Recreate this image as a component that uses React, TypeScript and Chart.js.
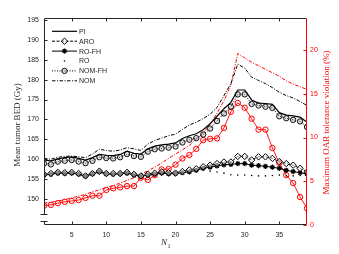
import React, { useEffect, useRef } from "react";
import { Chart, registerables } from "chart.js";
import { drawPoint } from "chart.js/helpers";

Chart.register(...registerables);

// ---------- data ----------
const N1 = [1, 2, 3, 4, 5, 6, 7, 8, 9, 10, 11, 12, 13, 14, 15, 16, 17, 18, 19, 20, 21, 22, 23, 24, 25, 26, 27, 28, 29, 30, 31, 32, 33, 34, 35, 36, 37, 38, 39];
const xTicks = [5, 10, 15, 20, 25, 30, 35];
const leftTicks = [150, 155, 160, 165, 170, 175, 180, 185, 190, 195];
const rightTicks = [0, 5, 10, 15, 20];

const PI = [159.8, 159.6, 160.1, 160.4, 160.6, 160.2, 159.8, 160.4, 161.2, 161.0, 160.9, 161.2, 162.0, 161.5, 161.3, 162.6, 163.3, 163.6, 163.8, 164.1, 165.2, 165.9, 166.4, 167.4, 168.9, 170.8, 172.7, 174.3, 177.4, 177.4, 174.9, 174.1, 174.0, 173.8, 171.7, 171.1, 170.9, 170.6, 169.3];
const ARO = [156.2, 156.4, 156.7, 156.6, 156.7, 156.4, 155.8, 156.4, 157.0, 156.4, 156.4, 156.4, 156.7, 156.2, 155.8, 156.2, 156.5, 156.8, 156.6, 156.5, 156.9, 157.3, 157.6, 158.1, 158.5, 158.9, 159.3, 159.3, 160.7, 160.7, 159.8, 160.6, 160.6, 160.2, 159.4, 158.9, 158.5, 157.7, 156.8];
const RO_FH = [156.0, 156.2, 156.5, 156.4, 156.5, 156.2, 155.7, 156.3, 156.8, 156.3, 156.2, 156.3, 156.5, 156.0, 155.7, 156.0, 156.2, 156.5, 156.3, 156.4, 156.6, 156.8, 157.2, 157.7, 158.0, 158.3, 158.6, 158.7, 158.9, 158.9, 158.5, 158.4, 158.2, 158.0, 157.7, 157.2, 156.9, 156.6, 156.3];
const RO = [155.9, 156.1, 156.4, 156.3, 156.4, 156.1, 155.6, 156.2, 156.7, 156.2, 156.1, 156.2, 156.4, 155.9, 155.6, 155.9, 156.1, 156.4, 156.2, 156.3, 156.5, 156.7, 157.0, 157.3, 157.0, 156.8, 156.5, 156.1, 156.0, 156.0, 155.9, 155.8, 155.8, 155.9, 156.0, 155.8, 155.8, 155.9, 156.0];
const NOM_FH = [158.9, 158.7, 159.4, 159.6, 159.8, 159.4, 159.0, 159.6, 160.5, 160.3, 160.2, 160.5, 161.3, 160.8, 160.6, 161.9, 162.5, 162.7, 162.9, 163.2, 164.2, 164.9, 165.3, 166.2, 167.7, 169.6, 171.5, 173.2, 176.3, 176.3, 173.9, 173.5, 173.2, 172.9, 170.8, 170.3, 169.9, 169.5, 168.1];
const NOM = [160.2, 160.0, 160.5, 160.7, 160.8, 160.6, 160.4, 161.3, 162.5, 162.2, 162.0, 162.3, 162.9, 162.6, 162.2, 163.8, 164.7, 165.3, 165.9, 166.3, 167.5, 168.6, 169.3, 170.2, 171.3, 173.0, 176.0, 179.0, 183.9, 182.9, 180.6, 179.8, 179.0, 178.0, 176.8, 176.0, 175.4, 174.5, 173.5];
// right axis: maximum OAR tolerance violation (%)
const VIOL_NOM_FH = [2.2, 2.3, 2.5, 2.65, 2.75, 2.85, 3.1, 3.35, 3.35, 4.0, 4.2, 4.3, 4.45, 4.45, 5.4, 5.15, 5.7, 6.35, 6.4, 6.9, 7.6, 8.0, 8.7, 9.7, 9.85, 9.9, 11.1, 12.95, 13.95, 13.4, 12.15, 10.9, 10.9, 8.8, 7.1, 5.7, 4.8, 3.2, 1.9];
const VIOL_NOM = [2.5, 2.6, 2.75, 2.9, 3.1, 3.3, 3.5, 3.8, 4.0, 4.3, 4.5, 4.8, 5.1, 5.4, 5.8, 6.2, 6.6, 7.1, 7.6, 8.1, 8.6, 9.1, 9.8, 10.5, 11.5, 12.8, 14.2, 16.0, 19.6, 19.1, 18.6, 18.2, 17.8, 17.4, 17.0, 16.5, 16.1, 15.8, 15.5];

const legendLabels = ["PI", "ARO", "RO-FH", "RO", "NOM-FH", "NOM"];
const xTitle = "N";
const xTitleSub = "1";
const leftTitle = "Mean tumor BED (Gy)";
const rightTitle = "Maximum OAR tolerance violation (%)";

// ---------- styles ----------
const BLACK = "#000000";
const AXIS = "#262626";
const RED = "#ff0000";
const SANS = "'Liberation Sans', Arial, Helvetica, sans-serif";
const SERIF = "'Liberation Serif', 'Times New Roman', serif";

const pts = (arr: number[]) => N1.map((n, i) => ({ x: n, y: arr[i] }));

const matlabAxes = {
  id: "matlabAxes",
  afterDraw(chart: any) {
    const { ctx, chartArea, scales } = chart;
    const { left, right, top, bottom } = chartArea;
    const xs = scales.x, yl = scales.y, yr = scales.y1;
    const T = 3;
    ctx.save();
    ctx.setLineDash([]);
    ctx.lineWidth = 1;
    const seg = (x1: number, y1: number, x2: number, y2: number) => {
      ctx.beginPath();
      ctx.moveTo(x1, y1);
      ctx.lineTo(x2, y2);
      ctx.stroke();
    };
    const L = Math.round(left) + 0.5;
    const R = Math.round(right) - 0.5;
    const Tp = Math.round(top) + 0.5;
    const B = Math.round(bottom) - 0.5;
    ctx.strokeStyle = AXIS;
    seg(L, Tp, R, Tp);
    seg(L, B, R, B);
    // left axis with break
    const yb1 = Math.round(yl.getPixelForValue(146.2)) + 0.5;
    const yb2 = Math.round(yl.getPixelForValue(144.5)) + 0.5;
    seg(L, Tp, L, yb1);
    seg(L, yb2, L, B);
    seg(L - 4, yb1, L + 3, yb1);
    seg(L - 4, yb2, L + 3, yb2);
    for (const v of xTicks) {
      const px = Math.round(xs.getPixelForValue(v)) + 0.5;
      seg(px, B, px, B - T);
      seg(px, Tp, px, Tp + T);
    }
    for (const v of leftTicks) {
      const py = Math.round(yl.getPixelForValue(v)) + 0.5;
      seg(L, py, L + T, py);
    }
    ctx.strokeStyle = RED;
    seg(R, Tp, R, B);
    for (const v of rightTicks) {
      const py = Math.round(yr.getPixelForValue(v)) + 0.5;
      seg(R, py, R - T, py);
    }

    // legend
    const ds = chart.data.datasets;
    const y0 = 31.3, dy = 9.9, lx0 = 52, lx1 = 77, mx = 64.5, tx = 79;
    ctx.font = `7px ${SANS}`;
    ctx.textBaseline = "middle";
    ctx.textAlign = "left";
    legendLabels.forEach((lab, i) => {
      const d = ds[i];
      const y = y0 + i * dy;
      if (d.showLine !== false) {
        ctx.setLineDash(d.borderDash || []);
        ctx.strokeStyle = d.borderColor;
        ctx.lineWidth = d.borderWidth;
        seg(lx0, y, lx1, y);
      }
      ctx.setLineDash([]);
      if (d.pointRadius > 0) {
        ctx.strokeStyle = d.pointBorderColor || d.borderColor;
        ctx.fillStyle = d.pointBackgroundColor || d.borderColor;
        ctx.lineWidth = d.pointBorderWidth;
        drawPoint(ctx, { pointStyle: d.pointStyle, radius: d.pointRadius, borderWidth: d.pointBorderWidth, rotation: 0 }, mx, y);
      }
      ctx.fillStyle = AXIS;
      ctx.fillText(lab, tx, y + 0.5);
    });

    // axis titles
    ctx.font = `9px ${SERIF}`;
    ctx.textAlign = "center";
    ctx.textBaseline = "middle";
    ctx.fillStyle = AXIS;
    ctx.save();
    ctx.translate(18, 125);
    ctx.rotate(-Math.PI / 2);
    ctx.fillText(leftTitle, 0, 0);
    ctx.restore();
    ctx.save();
    ctx.fillStyle = RED;
    ctx.translate(327, 122.5);
    ctx.rotate(-Math.PI / 2);
    ctx.fillText(rightTitle, 0, 0);
    ctx.restore();
    ctx.font = `italic 9px ${SERIF}`;
    ctx.textAlign = "left";
    ctx.fillText(xTitle, 161, 243);
    ctx.font = `6px ${SERIF}`;
    ctx.fillText(xTitleSub, 167.5, 246);
    ctx.restore();
  },
};

export default function App() {
  const ref = useRef<HTMLCanvasElement | null>(null);
  useEffect(() => {
    if (!ref.current) return;
    const tickFont = { family: SANS, size: 7 };
    const chart = new Chart(ref.current, {
      type: "line",
      data: {
        datasets: [
          { label: legendLabels[0], data: pts(PI), yAxisID: "y", borderColor: BLACK, borderWidth: 1.2, pointRadius: 0 },
          { label: legendLabels[1], data: pts(ARO), yAxisID: "y", borderColor: BLACK, borderWidth: 1, borderDash: [3, 1.5], pointStyle: "rectRot", pointRadius: 3.2, pointBorderWidth: 1, pointBorderColor: BLACK, pointBackgroundColor: "rgba(255,255,255,0.5)" },
          { label: legendLabels[2], data: pts(RO_FH), yAxisID: "y", borderColor: BLACK, borderWidth: 1, pointStyle: "star", pointRadius: 2.6, pointBorderWidth: 1.2, pointBorderColor: BLACK, pointBackgroundColor: BLACK },
          { label: legendLabels[3], data: pts(RO), yAxisID: "y", borderColor: BLACK, showLine: false, pointStyle: "circle", pointRadius: 0.8, pointBorderWidth: 0, pointBorderColor: BLACK, pointBackgroundColor: BLACK },
          { label: legendLabels[4], data: pts(NOM_FH), yAxisID: "y", borderColor: BLACK, borderWidth: 1, borderDash: [1, 1.5], pointStyle: "circle", pointRadius: 2.7, pointBorderWidth: 1, pointBorderColor: "#111111", pointBackgroundColor: "rgba(150,150,150,0.3)" },
          { label: legendLabels[5], data: pts(NOM), yAxisID: "y", borderColor: BLACK, borderWidth: 1, borderDash: [3.5, 1.5, 1, 1.5], pointRadius: 0 },
          { label: "NOM-FH violation", data: pts(VIOL_NOM_FH), yAxisID: "y1", borderColor: RED, borderWidth: 0.9, pointStyle: "circle", pointRadius: 2.7, pointBorderWidth: 1, pointBorderColor: RED, pointBackgroundColor: "rgba(255,0,0,0.05)" },
          { label: "NOM violation", data: pts(VIOL_NOM), yAxisID: "y1", borderColor: RED, borderWidth: 1, borderDash: [3.5, 1.5, 1, 1.5], pointRadius: 0 },
        ],
      },
      options: {
        animation: false,
        responsive: false,
        devicePixelRatio: 1,
        layout: { padding: { top: 18, left: 0, right: 0, bottom: 0 } },
        elements: { line: { tension: 0, fill: false } },
        plugins: { legend: { display: false }, tooltip: { enabled: false }, title: { display: false } },
        scales: {
          x: {
            type: "linear",
            min: 1,
            max: 39,
            grid: { display: false, drawTicks: false },
            border: { display: false },
            ticks: { font: tickFont, color: AXIS, padding: 6, maxRotation: 0, autoSkip: false },
            afterBuildTicks: (s: any) => { s.ticks = xTicks.map((v) => ({ value: v })); },
            afterFit: (s: any) => { s.height = 29; },
          },
          y: {
            type: "linear",
            position: "left",
            min: 143.46,
            max: 195.5,
            grid: { display: false, drawTicks: false },
            border: { display: false },
            ticks: { font: tickFont, color: AXIS, padding: 5, autoSkip: false },
            afterBuildTicks: (s: any) => { s.ticks = leftTicks.map((v) => ({ value: v })); },
            afterFit: (s: any) => { s.width = 44; },
          },
          y1: {
            type: "linear",
            position: "right",
            min: 0,
            max: 23.66,
            grid: { display: false, drawTicks: false },
            border: { display: false },
            ticks: { font: tickFont, color: RED, padding: 3, autoSkip: false },
            afterBuildTicks: (s: any) => { s.ticks = rightTicks.map((v) => ({ value: v })); },
            afterFit: (s: any) => { s.width = 32; },
          },
        },
      },
      plugins: [matlabAxes],
    } as any);
    return () => chart.destroy();
  }, []);
  return (
    <div style={{ position: "fixed", left: 0, top: 0, width: 339, height: 254, background: "#fff" }}>
      <canvas ref={ref} width={339} height={254} style={{ width: 339, height: 254, display: "block" }} />
    </div>
  );
}
